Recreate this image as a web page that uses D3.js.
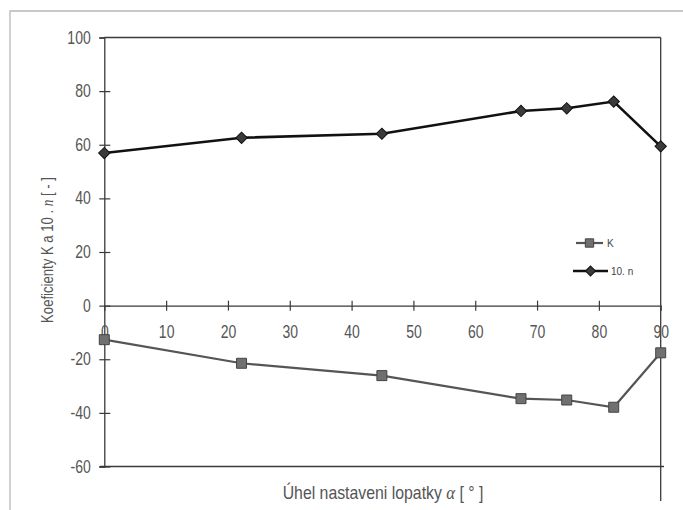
<!DOCTYPE html>
<html><head><meta charset="utf-8">
<script src="https://cdn.jsdelivr.net/npm/d3@7/dist/d3.min.js"></script>
<style>body{margin:0;background:#fff}svg{display:block}</style>
</head><body>
<script>
const alpha = [0, 22.2, 44.9, 67.4, 74.8, 82.4, 90];
const seriesK = [-12.7, -21.5, -26.1, -34.7, -35.2, -37.9, -17.6];
const series10n = [56.9, 62.6, 64.1, 72.6, 73.6, 76.1, 59.4];
const yTicks = [100, 80, 60, 40, 20, 0, -20, -40, -60];
const xTicks = [0, 10, 20, 30, 40, 50, 60, 70, 80, 90];
const legendLabels = ["K", "10. n"];

const W = 683, H = 510;
const svg = d3.select("body").append("svg").attr("width", W).attr("height", H);
const font = "'Liberation Sans',Arial,sans-serif";
const x = d3.scaleLinear().domain([0, 90]).range([104.3, 660.7]);
const y = d3.scaleLinear().domain([-60, 100]).range([466.5, 37.5]);

// outer frame
svg.append("path").attr("d", "M10,510V11H683").attr("fill", "none").attr("stroke", "#b8b8b8").attr("stroke-width", 1.3);

const axisCol = "#3a3a3a";
svg.append("line").attr("x1", x(0)).attr("x2", x(90)).attr("y1", y(100)).attr("y2", y(100)).attr("stroke", axisCol).attr("stroke-width", 1.3);
svg.append("line").attr("x1", x(90)).attr("x2", x(90)).attr("y1", y(100)).attr("y2", 501).attr("stroke", axisCol).attr("stroke-width", 1.3);
svg.append("line").attr("x1", 100).attr("x2", 664).attr("y1", y(-60)).attr("y2", y(-60)).attr("stroke", axisCol).attr("stroke-width", 1.3);

// y axis
const yAxis = svg.append("g").attr("transform", `translate(${x(0)},0)`)
  .call(d3.axisLeft(y).tickValues(yTicks).tickFormat(d => String(d)).tickSize(5).tickPadding(12));
yAxis.select(".domain").attr("stroke", axisCol).attr("stroke-width", 1.3);
yAxis.selectAll(".tick line").attr("stroke", axisCol).attr("stroke-width", 1.2)
  .attr("x1", d => d === 100 ? 0 : 6).attr("x2", -5);
yAxis.selectAll(".tick text").attr("fill", "#555").attr("transform", "scale(0.8,1)")
  .style("font-family", font).style("font-size", "17.5px");

// x axis at zero
const xAxis = svg.append("g").attr("transform", `translate(0,${y(0)})`)
  .call(d3.axisBottom(x).tickValues(xTicks).tickFormat(d => String(d)).tickSize(5).tickPadding(15));
xAxis.select(".domain").attr("stroke", axisCol).attr("stroke-width", 1.3);
xAxis.selectAll(".tick line").attr("stroke", axisCol).attr("stroke-width", 1.2).attr("y1", -5).attr("y2", 5)
  .attr("opacity", d => (d === 0 || d === 90) ? 0 : 1);
xAxis.selectAll(".tick text").attr("fill", "#555").attr("transform", "scale(0.8,1)")
  .style("font-family", font).style("font-size", "17.5px");

// lines
const line = d3.line().x((d, i) => x(alpha[i])).y(d => y(d));
svg.append("path").datum(seriesK).attr("d", line).attr("fill", "none").attr("stroke", "#555").attr("stroke-width", 2.2);
svg.append("path").datum(series10n).attr("d", line).attr("fill", "none").attr("stroke", "#111").attr("stroke-width", 2.6);

const sq = d3.symbol().type(d3.symbolSquare).size(100);
const dm = d3.symbol().type(d3.symbolSquare).size(64);
svg.append("g").selectAll("path").data(seriesK).join("path")
  .attr("d", sq).attr("transform", (d, i) => `translate(${x(alpha[i])},${y(d)})`)
  .attr("fill", "#707070").attr("stroke", "#444").attr("stroke-width", 1);
svg.append("g").selectAll("path").data(series10n).join("path")
  .attr("d", dm).attr("transform", (d, i) => `translate(${x(alpha[i])},${y(d)}) rotate(45)`)
  .attr("fill", "#3a3a3a").attr("stroke", "#111").attr("stroke-width", 1);

// legend
const lg = svg.append("g");
lg.append("line").attr("x1", 576).attr("x2", 603).attr("y1", 243).attr("y2", 243).attr("stroke", "#555").attr("stroke-width", 2.2);
lg.append("path").attr("d", d3.symbol().type(d3.symbolSquare).size(70)).attr("transform", "translate(589.5,243)").attr("fill", "#707070").attr("stroke", "#444");
lg.append("text").attr("x", 607).attr("y", 247).text(legendLabels[0]).attr("fill", "#444").style("font-family", font).style("font-size", "10px");
lg.append("line").attr("x1", 573).attr("x2", 608).attr("y1", 271).attr("y2", 271).attr("stroke", "#111").attr("stroke-width", 2.6);
lg.append("path").attr("d", d3.symbol().type(d3.symbolSquare).size(50)).attr("transform", "translate(590.5,271) rotate(45)").attr("fill", "#3a3a3a").attr("stroke", "#111");
lg.append("text").attr("x", 611).attr("y", 275).text(legendLabels[1]).attr("fill", "#444").style("font-family", font).style("font-size", "10px");

// axis titles
const yt = svg.append("text").attr("transform", "translate(53,250) rotate(-90) scale(0.82,1)").attr("text-anchor", "middle")
  .attr("fill", "#555").style("font-family", font).style("font-size", "16px");
yt.append("tspan").text("Koeficienty K a 10 . ");
yt.append("tspan").attr("font-style", "italic").attr("font-family", "'Liberation Serif',serif").text("n");
yt.append("tspan").text("  [ - ]");

const xt = svg.append("text").attr("transform", "translate(383,499) scale(0.88,1)").attr("text-anchor", "middle")
  .attr("fill", "#555").style("font-family", font).style("font-size", "18px");
xt.append("tspan").text("Úhel nastaveni lopatky ");
xt.append("tspan").attr("font-style", "italic").attr("font-family", "'Liberation Serif',serif").style("font-size", "19px").text("α");
xt.append("tspan").text("  [ ° ]");
</script>
</body></html>
